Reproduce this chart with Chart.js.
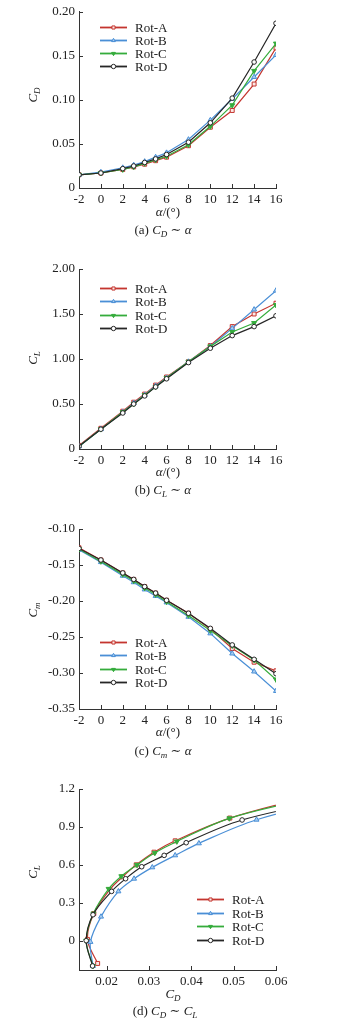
<!DOCTYPE html>
<html>
<head>
<meta charset="utf-8">
<script src="https://cdn.jsdelivr.net/npm/chart.js@4.4.0/dist/chart.umd.min.js"></script>
<style>
  body { margin: 0; background: #fff; width: 355px; height: 1023px; position: relative; overflow: hidden;
         font-family: "Liberation Serif", "DejaVu Serif", serif; color: #222; }
  canvas { position: absolute; left: 0; }
  .lbl { position: absolute; font-size: 13px; white-space: nowrap; line-height: 1; transform: translate(-50%, -50%); }
  .ylbl { transform: translate(-50%, -50%) rotate(-90deg); }
  .lbl sub { font-size: 9px; vertical-align: -3px; }
</style>
</head>
<body>
<canvas id="chartA" width="355" height="250" style="top:0px"></canvas>
<canvas id="chartB" width="355" height="250" style="top:250px"></canvas>
<canvas id="chartC" width="355" height="250" style="top:500px"></canvas>
<canvas id="chartD" width="355" height="250" style="top:750px"></canvas>

<!-- axis titles and captions -->
<div class="lbl ylbl" style="left:34px;top:95px"><i>C</i><sub><i>D</i></sub></div>
<div class="lbl" style="left:168px;top:211px"><i>α</i>/(°)</div>
<div class="lbl" style="left:163px;top:231px">(a) <i>C</i><sub><i>D</i></sub> ∼ <i>α</i></div>

<div class="lbl ylbl" style="left:34px;top:358px"><i>C</i><sub><i>L</i></sub></div>
<div class="lbl" style="left:168px;top:471px"><i>α</i>/(°)</div>
<div class="lbl" style="left:163px;top:491px">(b) <i>C</i><sub><i>L</i></sub> ∼ <i>α</i></div>

<div class="lbl ylbl" style="left:34px;top:610px"><i>C</i><sub><i>m</i></sub></div>
<div class="lbl" style="left:168px;top:731px"><i>α</i>/(°)</div>
<div class="lbl" style="left:163px;top:752px">(c) <i>C</i><sub><i>m</i></sub> ∼ <i>α</i></div>

<div class="lbl ylbl" style="left:34px;top:872px"><i>C</i><sub><i>L</i></sub></div>
<div class="lbl" style="left:173px;top:995px"><i>C</i><sub><i>D</i></sub></div>
<div class="lbl" style="left:165px;top:1012px">(d) <i>C</i><sub><i>D</i></sub> ∼ <i>C</i><sub><i>L</i></sub></div>

<script>
// 공통 데이터
const seriesNames = ['Rot-A', 'Rot-B', 'Rot-C', 'Rot-D'];
const alphaDeg = [-2, 0, 2, 3, 4, 5, 6, 8, 10, 12, 14, 16];

// (a) 항력계수
const cdA = [0.015, 0.017, 0.021, 0.024, 0.027, 0.031, 0.035, 0.048, 0.069, 0.088, 0.118, 0.159];
const cdB = [0.015, 0.018, 0.023, 0.026, 0.030, 0.035, 0.040, 0.055, 0.077, 0.101, 0.126, 0.151];
const cdC = [0.015, 0.017, 0.021, 0.024, 0.028, 0.032, 0.036, 0.049, 0.070, 0.094, 0.133, 0.164];
const cdD = [0.015, 0.017, 0.022, 0.025, 0.029, 0.033, 0.038, 0.052, 0.074, 0.102, 0.143, 0.187];

// (b) 양력계수
const clA = [0.04, 0.23, 0.42, 0.52, 0.61, 0.71, 0.80, 0.97, 1.15, 1.36, 1.50, 1.62];
const clB = [0.03, 0.22, 0.41, 0.51, 0.60, 0.70, 0.79, 0.97, 1.14, 1.34, 1.55, 1.76];
const clC = [0.03, 0.22, 0.41, 0.50, 0.60, 0.69, 0.79, 0.97, 1.14, 1.30, 1.40, 1.60];
const clD = [0.03, 0.22, 0.40, 0.50, 0.59, 0.69, 0.78, 0.96, 1.12, 1.26, 1.36, 1.48];

// (c) 피칭모멘트
const cmA = [-0.126, -0.143, -0.161, -0.170, -0.180, -0.189, -0.199, -0.217, -0.239, -0.266, -0.285, -0.297];
const cmB = [-0.129, -0.146, -0.165, -0.174, -0.184, -0.193, -0.202, -0.222, -0.245, -0.273, -0.298, -0.325];
const cmC = [-0.128, -0.145, -0.163, -0.172, -0.182, -0.191, -0.201, -0.220, -0.241, -0.262, -0.282, -0.309];
const cmD = [-0.127, -0.143, -0.161, -0.170, -0.180, -0.189, -0.199, -0.217, -0.238, -0.261, -0.281, -0.301];

// (d) 극곡선 CD-CL
const polarCdA = [0.0179, 0.0155, 0.0170, 0.0208, 0.0238, 0.0270, 0.0312, 0.0362, 0.0491, 0.069];
const polarClA = [-0.18, 0.01, 0.215, 0.405, 0.505, 0.60, 0.70, 0.79, 0.97, 1.15];
const polarCdB = [0.0168, 0.0162, 0.0187, 0.0228, 0.0265, 0.0308, 0.0362, 0.0418, 0.0554, 0.078];
const polarClB = [-0.20, -0.01, 0.19, 0.39, 0.49, 0.58, 0.675, 0.77, 0.957, 1.15];
const polarCdC = [0.0168, 0.0152, 0.0169, 0.0205, 0.0235, 0.0272, 0.0314, 0.0366, 0.0490, 0.070];
const polarClC = [-0.20, 0.00, 0.215, 0.41, 0.51, 0.60, 0.695, 0.785, 0.968, 1.14];
const polarCdD = [0.0167, 0.0152, 0.0168, 0.0212, 0.0245, 0.0283, 0.0336, 0.0388, 0.0520, 0.074];
const polarClD = [-0.20, 0.00, 0.205, 0.39, 0.49, 0.585, 0.675, 0.775, 0.955, 1.12];

// 눈금
const alphaTicks = [-2, 0, 2, 4, 6, 8, 10, 12, 14, 16];
const cdTicks = [0, 0.05, 0.10, 0.15, 0.20];
const cdTickLabels = ['0', '0.05', '0.10', '0.15', '0.20'];
const clTicks = [0, 0.5, 1.0, 1.5, 2.0];
const clTickLabels = ['0', '0.50', '1.00', '1.50', '2.00'];
const cmTicks = [-0.35, -0.30, -0.25, -0.20, -0.15, -0.10];
const cmTickLabels = ['-0.35', '-0.30', '-0.25', '-0.20', '-0.15', '-0.10'];
const polarXTicks = [0.02, 0.03, 0.04, 0.05, 0.06];
const polarXTickLabels = ['0.02', '0.03', '0.04', '0.05', '0.06'];
const polarYTicks = [0, 0.3, 0.6, 0.9, 1.2];
const polarYTickLabels = ['0', '0.3', '0.6', '0.9', '1.2'];

/**
 * 시리즈 스타일
 */
const seriesStyle = [
  { color: '#c4352f', fill: '#fbe9e7', pointStyle: 'rect', rotation: 0, radius: 2.8, order: 3 },
  { color: '#4a8fd6', fill: '#a9cdf0', pointStyle: 'triangle', rotation: 0, radius: 2.9, order: 2 },
  { color: '#35ac3c', fill: '#35ac3c', pointStyle: 'triangle', rotation: 180, radius: 2.9, order: 1 },
  { color: '#262626', fill: '#ffffff', pointStyle: 'circle', rotation: 0, radius: 2.3, order: 0 }
];

const FONT = { family: '"Liberation Serif", serif', size: 13 };

/**
 * 안쪽 눈금 표시
 */
const inwardTicks = {
  id: 'inwardTicks',
  afterDraw(chart) {
    const { ctx, chartArea, scales } = chart;
    ctx.save();
    ctx.strokeStyle = '#333';
    ctx.lineWidth = 1;
    ctx.beginPath();
    scales.x.ticks.forEach(t => {
      const px = Math.round(scales.x.getPixelForValue(t.value)) + 0.5;
      ctx.moveTo(px, chartArea.bottom);
      ctx.lineTo(px, chartArea.bottom - 4);
    });
    scales.y.ticks.forEach(t => {
      const py = Math.round(scales.y.getPixelForValue(t.value)) + 0.5;
      ctx.moveTo(chartArea.left, py);
      ctx.lineTo(chartArea.left + 4, py);
    });
    ctx.stroke();
    ctx.restore();
  }
};

/**
 * 그래프 안쪽 범례
 */
const insideLegend = {
  id: 'insideLegend',
  afterDraw(chart, args, opts) {
    const ctx = chart.ctx;
    ctx.save();
    ctx.font = '13px "Liberation Serif", serif';
    ctx.textBaseline = 'middle';
    ctx.textAlign = 'left';
    seriesNames.forEach((name, i) => {
      const st = seriesStyle[i];
      const y = Math.round(opts.y + i * opts.gap) + 0.5;
      ctx.strokeStyle = st.color;
      ctx.lineWidth = 1.8;
      ctx.beginPath();
      ctx.moveTo(opts.x, y);
      ctx.lineTo(opts.x + 27, y);
      ctx.stroke();
      ctx.fillStyle = st.fill;
      ctx.lineWidth = 1;
      Chart.helpers.drawPoint(ctx, {
        pointStyle: st.pointStyle, rotation: st.rotation, radius: 2.2, borderWidth: 1
      }, opts.x + 13.5, y);
      ctx.fillStyle = '#222';
      ctx.fillText(name, opts.x + 35, y + 1);
    });
    ctx.restore();
  }
};

function makeDatasets(xs, ysList, tension) {
  return ysList.map((ys, i) => {
    const st = seriesStyle[i];
    const xArr = Array.isArray(xs[0]) ? xs[i] : xs;
    return {
      label: seriesNames[i],
      data: xArr.map((x, j) => ({ x: x, y: ys[j] })),
      borderColor: st.color,
      borderWidth: 1.2,
      pointStyle: st.pointStyle,
      pointRotation: st.rotation,
      pointRadius: st.radius,
      pointBorderWidth: 1,
      pointBorderColor: st.color,
      pointBackgroundColor: st.fill,
      tension: tension,
      order: st.order
    };
  });
}

function axis(min, max, ticks, labels, fit) {
  return {
    type: 'linear',
    min: min,
    max: max,
    grid: { display: false, drawTicks: false },
    border: { display: true, color: '#333', width: 1 },
    ticks: {
      color: '#222',
      font: FONT,
      padding: 4,
      autoSkip: false,
      maxRotation: 0,
      callback: (v) => {
        const k = ticks.findIndex(t => Math.abs(t - v) < 1e-9);
        return k >= 0 ? labels[k] : '';
      }
    },
    afterBuildTicks: (scale) => { scale.ticks = ticks.map(v => ({ value: v })); },
    afterFit: fit
  };
}

/**
 * 차트 생성
 */
function buildChart(id, cfg) {
  const ctx = document.getElementById(id).getContext('2d');
  return new Chart(ctx, {
    type: 'line',
    data: { datasets: cfg.datasets },
    options: {
      responsive: false,
      animation: false,
      events: [],
      layout: { padding: { top: cfg.top, left: 0, right: 79, bottom: 250 - cfg.bottom - 20 } },
      plugins: {
        legend: { display: false },
        tooltip: { enabled: false },
        insideLegend: cfg.legend
      },
      scales: {
        x: axis(cfg.xMin, cfg.xMax, cfg.xTicks, cfg.xLabels, (s) => { s.height = 20; }),
        y: axis(cfg.yMin, cfg.yMax, cfg.yTicks, cfg.yLabels, (s) => { s.width = 79; })
      }
    },
    plugins: [inwardTicks, insideLegend]
  });
}

function init() {
  const alphaLabels = alphaTicks.map(String);

  buildChart('chartA', {
    datasets: makeDatasets(alphaDeg, [cdA, cdB, cdC, cdD], 0),
    top: 7.5, bottom: 188,
    xMin: -2, xMax: 16, xTicks: alphaTicks, xLabels: alphaLabels,
    yMin: 0, yMax: 0.2, yTicks: cdTicks, yLabels: cdTickLabels,
    legend: { x: 100, y: 26.5, gap: 13.3 }
  });

  buildChart('chartB', {
    datasets: makeDatasets(alphaDeg, [clA, clB, clC, clD], 0),
    top: 19, bottom: 199,
    xMin: -2, xMax: 16, xTicks: alphaTicks, xLabels: alphaLabels,
    yMin: 0, yMax: 2.0, yTicks: clTicks, yLabels: clTickLabels,
    legend: { x: 100, y: 37.7, gap: 13.5 }
  });

  buildChart('chartC', {
    datasets: makeDatasets(alphaDeg, [cmA, cmB, cmC, cmD], 0),
    top: 29, bottom: 209,
    xMin: -2, xMax: 16, xTicks: alphaTicks, xLabels: alphaLabels,
    yMin: -0.35, yMax: -0.10, yTicks: cmTicks, yLabels: cmTickLabels,
    legend: { x: 100, y: 141.7, gap: 13.4 }
  });

  buildChart('chartD', {
    datasets: makeDatasets([polarCdA, polarCdB, polarCdC, polarCdD],
      [polarClA, polarClB, polarClC, polarClD], 0.35),
    top: 39, bottom: 220,
    xMin: 0.0135, xMax: 0.06, xTicks: polarXTicks, xLabels: polarXTickLabels,
    yMin: -0.232, yMax: 1.2, yTicks: polarYTicks, yLabels: polarYTickLabels,
    legend: { x: 197, y: 149.3, gap: 13.5 }
  });
}

init();
</script>
</body>
</html>
